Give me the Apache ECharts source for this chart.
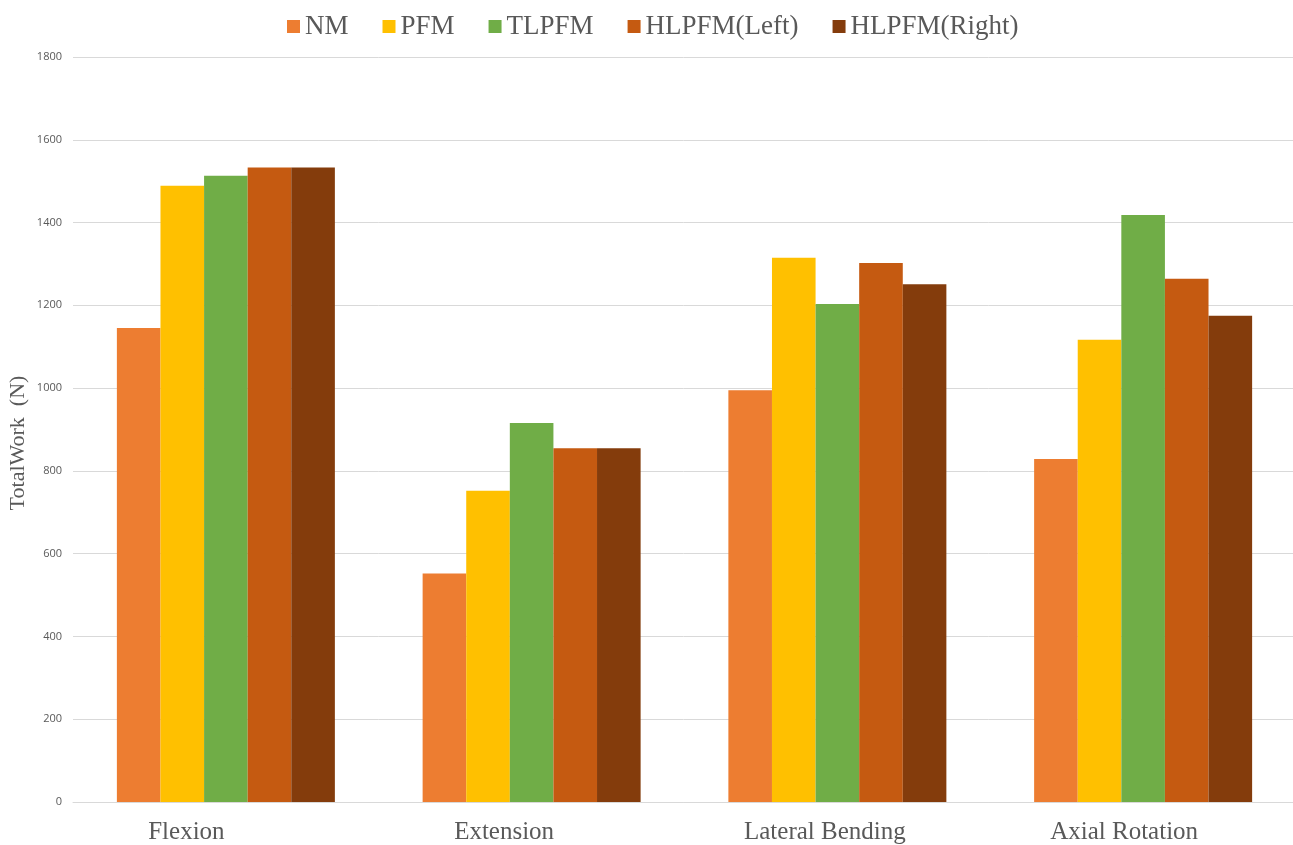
<!DOCTYPE html>
<html>
<head>
<meta charset="utf-8">
<title>TotalWork by motion</title>
<script src="https://cdn.jsdelivr.net/npm/echarts@6/dist/echarts.min.js"></script>
<style>
  html, body { margin: 0; padding: 0; background: #ffffff; }
  #chart { width: 1293px; height: 845px; }
</style>
</head>
<body>
<div id="chart"></div>
<script>
// Motion categories on the x axis
const categories = ['Flexion', 'Extension', 'Lateral Bending', 'Axial Rotation'];

// Series names and values (N)
const seriesNames = ['NM', 'PFM', 'TLPFM', 'HLPFM(Left)', 'HLPFM(Right)'];
const nmValues = [1145, 552, 995, 829];
const pfmValues = [1489, 752, 1315, 1117];
const tlpfmValues = [1513, 916, 1203, 1418];
const hlpfmLeftValues = [1533, 855, 1302, 1264];
const hlpfmRightValues = [1533, 855, 1251, 1175];

// Value axis ticks
const yMin = 0;
const yMax = 1800;
const yStep = 200;

const seriesValues = [nmValues, pfmValues, tlpfmValues, hlpfmLeftValues, hlpfmRightValues];
const seriesColors = ['#ED7D31', '#FFC000', '#70AD47', '#C55A11', '#843C0C'];

const serif = '"Liberation Serif", "Times New Roman", serif';
const textGray = '#595959';

// Category labels sit a little left of their bar groups (trailing space per label)
const labelTrail = [79, 55, 25, 38];
const categoryRich = {};
labelTrail.forEach((w, i) => {
  categoryRich['c' + i] = {
    fontFamily: serif,
    fontSize: 25,
    color: textGray,
    padding: [0, w, 0, 0]
  };
});

const chart = echarts.init(document.getElementById('chart'), null, { renderer: 'canvas' });

chart.setOption({
  animation: false,
  backgroundColor: '#ffffff',
  legend: {
    top: 8,
    left: 282,
    itemWidth: 13,
    itemHeight: 13,
    itemGap: 34,
    icon: 'rect',
    textStyle: { fontFamily: serif, fontSize: 27, color: textGray },
    data: seriesNames
  },
  grid: {
    left: 73,
    top: 57,
    width: 1223,
    height: 745,
    containLabel: false,
    outerBoundsMode: 'none'
  },
  xAxis: {
    type: 'category',
    data: categories,
    axisLine: { show: true, lineStyle: { color: '#d9d9d9', width: 1 } },
    axisTick: { show: false },
    axisLabel: {
      fontFamily: serif,
      fontSize: 25,
      color: textGray,
      margin: 18,
      formatter: (value, index) => '{c' + index + '|' + value + '}',
      rich: categoryRich
    }
  },
  yAxis: {
    type: 'value',
    min: yMin,
    max: yMax,
    interval: yStep,
    name: 'TotalWork  (N)',
    nameLocation: 'middle',
    nameGap: 44,
    nameMoveOverlap: false,
    nameTextStyle: {
      fontFamily: serif,
      fontSize: 22,
      color: textGray,
      padding: [0, 27, 0, 0]
    },
    axisLine: { show: false },
    axisTick: { show: false },
    splitLine: { show: true, lineStyle: { color: '#d9d9d9', width: 1 } },
    axisLabel: {
      fontFamily: '"Open Sans", "Noto Sans", sans-serif',
      fontSize: 11,
      color: textGray,
      margin: 11,
      formatter: (v) => String(v)
    }
  },
  series: seriesNames.map((name, i) => ({
    name: name,
    type: 'bar',
    data: seriesValues[i],
    barGap: '0%',
    barCategoryGap: '28.7%',
    itemStyle: { color: seriesColors[i] }
  }))
});
</script>
</body>
</html>
